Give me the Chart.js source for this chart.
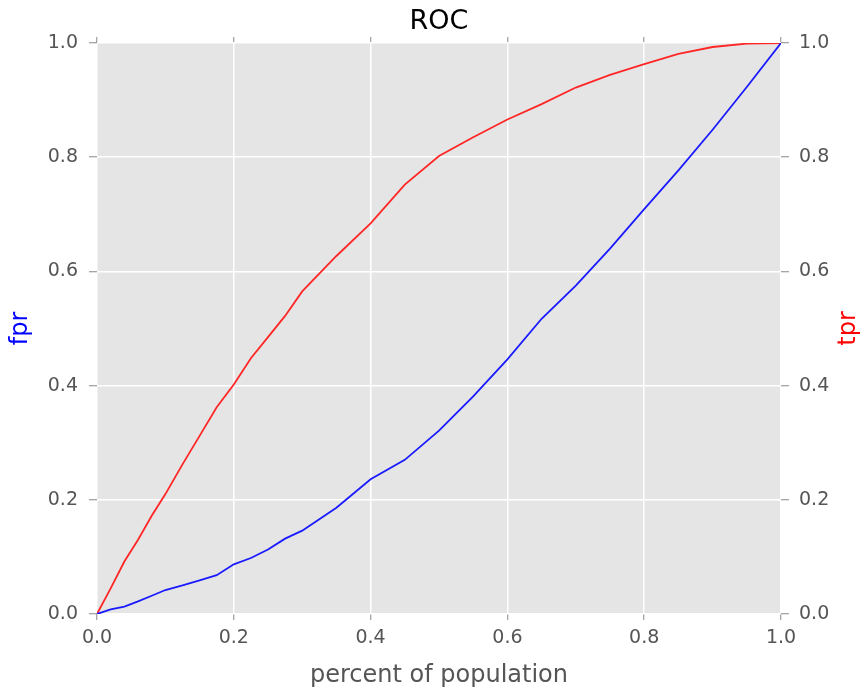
<!DOCTYPE html>
<html>
<head>
<meta charset="utf-8">
<script src="https://cdn.jsdelivr.net/npm/chart.js@4.4.0/dist/chart.umd.min.js"></script>
<style>
  html, body { margin: 0; padding: 0; background: #fff; }
  #wrap { width: 863px; height: 693px; position: relative; }
</style>
</head>
<body>
<div id="wrap"><canvas id="roc"></canvas></div>
<script>
(function () {
  "use strict";

  // percent of population (x), shared by both curves
  var xPct = [0, 0.02, 0.04, 0.06, 0.08, 0.1, 0.125, 0.15, 0.175, 0.2, 0.225, 0.25, 0.275, 0.3,
              0.35, 0.4, 0.45, 0.5, 0.55, 0.6, 0.65, 0.7, 0.75, 0.8, 0.85, 0.9, 0.95, 1.0];
  var fprVals = [0, 0.008, 0.013, 0.022, 0.032, 0.042, 0.05, 0.059, 0.068, 0.087, 0.098, 0.113, 0.132, 0.146,
                 0.186, 0.236, 0.27, 0.321, 0.381, 0.446, 0.517, 0.575, 0.64, 0.709, 0.777, 0.848, 0.923, 1.0];
  var tprVals = [0, 0.045, 0.092, 0.13, 0.172, 0.21, 0.262, 0.312, 0.362, 0.402, 0.448, 0.485, 0.522, 0.565,
                 0.627, 0.684, 0.752, 0.802, 0.835, 0.866, 0.893, 0.922, 0.944, 0.963, 0.981, 0.993, 0.999, 1.0];

  var FONT = '"DejaVu Sans", sans-serif';
  var TICK_GREY = "#555555";

  function pts(ys) {
    return xPct.map(function (x, i) { return { x: x, y: ys[i] }; });
  }
  function fmt(v) { return Number(v).toFixed(1); }

  var ggplot = {
    id: "ggplot",
    beforeDraw: function (chart) {
      var a = chart.chartArea, ctx = chart.ctx;
      ctx.save();
      ctx.fillStyle = "#E5E5E5";
      ctx.fillRect(a.left, a.top, a.right - a.left, a.bottom - a.top);
      ctx.restore();
    },
    afterDraw: function (chart) {
      // right-hand y label, reading bottom to top like the left one
      var a = chart.chartArea, ctx = chart.ctx;
      ctx.save();
      ctx.translate(chart.width - 14, (a.top + a.bottom) / 2);
      ctx.rotate(-Math.PI / 2);
      ctx.font = "24px " + FONT;
      ctx.fillStyle = "red";
      ctx.textAlign = "center";
      ctx.textBaseline = "middle";
      ctx.fillText("tpr", 0, 0);
      ctx.restore();
    }
  };

  function grid(onArea, len) {
    return { display: true, drawOnChartArea: onArea, color: "#FFFFFF", lineWidth: 1.5,
             tickColor: "#888888", tickWidth: 1, tickLength: len };
  }

  new Chart(document.getElementById("roc").getContext("2d"), {
    type: "line",
    data: {
      datasets: [
        { label: "fpr", data: pts(fprVals), yAxisID: "y", xAxisID: "x",
          borderColor: "#1A1AFF", borderWidth: 1.8, pointRadius: 0, tension: 0, fill: false },
        { label: "tpr", data: pts(tprVals), yAxisID: "y2", xAxisID: "x",
          borderColor: "#FF2626", borderWidth: 1.8, pointRadius: 0, tension: 0, fill: false }
      ]
    },
    options: {
      responsive: true,
      maintainAspectRatio: false,
      animation: false,
      layout: { padding: 0 },
      plugins: {
        legend: { display: false },
        tooltip: { enabled: false },
        title: { display: true, text: "ROC", fullSize: false, color: "#000000",
                 font: { family: FONT, size: 27, weight: "normal", lineHeight: 1.0 },
                 padding: { top: 8, bottom: 0 } }
      },
      scales: {
        x: {
          type: "linear", position: "bottom", min: 0, max: 1,
          border: { display: false },
          grid: grid(true, 6),
          ticks: { stepSize: 0.2, callback: fmt, color: TICK_GREY, padding: 7,
                   font: { family: FONT, size: 19 }, maxRotation: 0 },
          title: { display: true, text: "percent of population", color: TICK_GREY,
                   font: { family: FONT, size: 24 }, padding: { top: 0, bottom: 3 } },
          afterFit: function (s) { s.height = 79; }
        },
        x2: {
          type: "linear", position: "top", min: 0, max: 1,
          border: { display: false },
          grid: grid(false, 6),
          ticks: { display: false, stepSize: 0.2 },
          afterFit: function (s) { s.height = 8; }
        },
        y: {
          type: "linear", position: "left", min: 0, max: 1,
          border: { display: false },
          grid: grid(true, 8),
          ticks: { stepSize: 0.2, callback: fmt, color: TICK_GREY, padding: 11,
                   font: { family: FONT, size: 19 } },
          title: { display: true, text: "fpr", color: "#0000FF",
                   font: { family: FONT, size: 24 }, padding: { top: 6, bottom: 0 } },
          afterFit: function (s) { s.width = 97; }
        },
        y2: {
          type: "linear", position: "right", min: 0, max: 1,
          border: { display: false },
          grid: grid(false, 8),
          ticks: { stepSize: 0.2, callback: fmt, color: TICK_GREY, padding: 10,
                   font: { family: FONT, size: 19 } },
          afterFit: function (s) { s.width = 82; }
        }
      }
    },
    plugins: [ggplot]
  });
})();
</script>
</body>
</html>
